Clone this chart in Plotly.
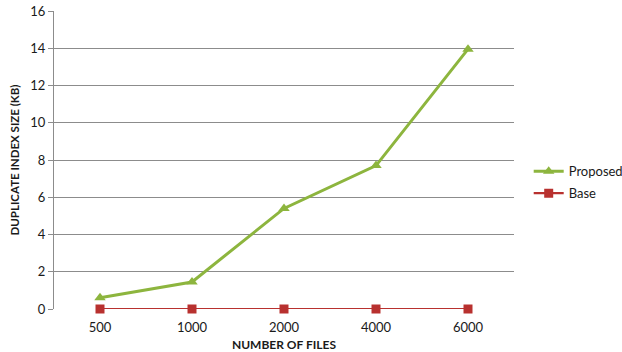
import plotly.graph_objects as go

# Number of files per run (category axis)
files = ["500", "1000", "2000", "4000", "6000"]
# Duplicate index size in KB
proposed = [0.6, 1.45, 5.4, 7.7, 13.95]
base = [0, 0, 0, 0, 0]

y_ticks = [0, 2, 4, 6, 8, 10, 12, 14, 16]

GREEN = "#8DB53E"
RED = "#B8312F"
FONT = "Lato, 'Open Sans', sans-serif"
TEXT = "#1a1a1a"

fig = go.Figure()
fig.add_trace(go.Scatter(
    x=files, y=proposed, name="Proposed", mode="lines+markers",
    legendgroup="p",
    line=dict(color=GREEN, width=3),
    marker=dict(symbol="triangle-up", size=10, color=GREEN),
    cliponaxis=False,
))
fig.add_trace(go.Scatter(
    x=files, y=base, name="Base", mode="lines+markers",
    legendgroup="b",
    line=dict(color=RED, width=2.2),
    marker=dict(symbol="square", size=9, color=RED),
    cliponaxis=False,
))

fig.update_layout(
    width=622, height=352,
    margin=dict(l=54, r=108, t=11, b=43),
    paper_bgcolor="white", plot_bgcolor="white",
    font=dict(family=FONT, size=12, color=TEXT),
    showlegend=True,
    legend=dict(
        xref="container", yref="container",
        x=0.85, y=0.482, xanchor="left", yanchor="middle",
        font=dict(size=13, color=TEXT),
        itemwidth=30, tracegroupgap=2, bgcolor="rgba(0,0,0,0)",
    ),
    xaxis=dict(
        type="category", showgrid=False, zeroline=False,
        showline=False, ticks="outside", ticklen=6, tickcolor="rgba(0,0,0,0)",
        tickfont=dict(size=13, color=TEXT), automargin=False,
        title=dict(text="<b>NUMBER OF FILES</b>", font=dict(size=12, color=TEXT), standoff=13),
        range=[-0.5, 4.5],
    ),
    yaxis=dict(
        range=[0, 16], tickvals=y_ticks, showgrid=True,
        gridcolor="#8C8C8C", gridwidth=1, zeroline=False,
        showline=True, linecolor="#8C8C8C", linewidth=1,
        ticks="outside", ticklen=5, tickcolor="#8C8C8C",
        tickfont=dict(size=13, color=TEXT), automargin=False,
        title=dict(text="<b>DUPLICATE INDEX SIZE (KB)</b>", font=dict(size=11.5, color=TEXT), standoff=8),
    ),
)

fig.write_html("out.html")
